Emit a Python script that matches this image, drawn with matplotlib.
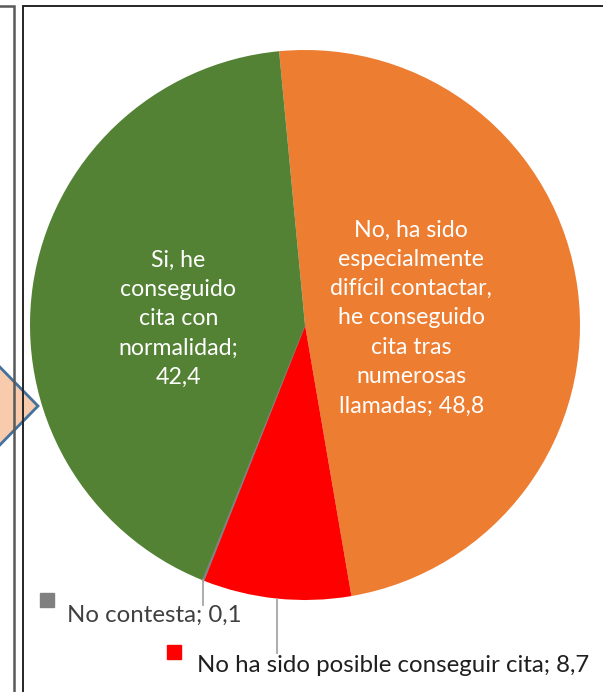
import numpy as np
import matplotlib.pyplot as plt
from matplotlib.patches import Polygon, Rectangle

plt.rcParams['font.family'] = ['Lato', 'DejaVu Sans']

# Datos del gráfico (orden de los sectores en sentido horario)
categorias = [
    'No, ha sido\nespecialmente\ndifícil contactar,\nhe conseguido\ncita tras\nnumerosas\nllamadas',
    'No ha sido posible conseguir cita',
    'No contesta',
    'Si, he\nconseguido\ncita con\nnormalidad',
]
valores = [48.8, 8.7, 0.1, 42.4]
colores = ['#ED7D31', '#FF0000', '#808080', '#548235']

W, H = 603, 692
fig = plt.figure(figsize=(W / 100, H / 100), dpi=100)
ax = fig.add_axes([0, 0, 1, 1])

# Centro y radio en píxeles (eje y invertido)
cx, cy, r = 305, 325, 275
wedges, _ = ax.pie(valores, colors=colores, center=(cx, cy), radius=r,
                   startangle=264.6, counterclock=True,
                   wedgeprops=dict(edgecolor='none'))
wedges[2].set_edgecolor('#808080')
wedges[2].set_linewidth(0.9)
ax.set_xlim(0, W)
ax.set_ylim(H, 0)
ax.set_aspect('equal')
ax.axis('off')

def fmt(v):
    return f'{v:.1f}'.replace('.', ',')

# Etiquetas interiores (naranja y verde)
interiores = {0: (0.39, ' ', 7), 3: (0.465, '\n', 12)}
for i, (dist, sep, dy) in interiores.items():
    w = wedges[i]
    mid = np.deg2rad((w.theta1 + w.theta2) / 2)
    x = cx + dist * r * np.cos(mid)
    y = cy + dist * r * np.sin(mid) + dy
    ax.text(x, y, f'{categorias[i]};{sep}{fmt(valores[i])}', color='white',
            fontsize=16.7, ha='center', va='center', ma='center',
            linespacing=1.49)

# Etiquetas exteriores con línea guía
ext = {2: (605, 40, 593, 67, 622, '#404040'),
       1: (653, 167, 645, 197, 672, '#1F1F1F')}
for i, (ybot, sx, sy, tx, ty, tc) in ext.items():
    w = wedges[i]
    mid = np.deg2rad((w.theta1 + w.theta2) / 2)
    px = cx + r * np.cos(mid)
    py = cy + r * np.sin(mid)
    ax.plot([px, px], [py, ybot], color='#A6A6A6', lw=1.3, zorder=3)
    ax.add_patch(Rectangle((sx, sy), 14, 14, color=colores[i], zorder=3))
    ax.text(tx, ty, f'{categorias[i]}; {fmt(valores[i])}', color=tc,
            fontsize=17.3, ha='left', va='baseline')

# Flecha del diagrama contiguo y marcos
ax.add_patch(Polygon([(-10, 357), (38, 406), (-10, 455)], closed=True,
                     facecolor='#F8CBAD', edgecolor='#41719C', lw=2, zorder=1))
ax.plot([0, 14, 14], [6, 6, H], color='#595959', lw=1.8, zorder=4,
        solid_joinstyle='miter')
ax.plot([23, 23, W + 5], [H, 6, 6], color='#262626', lw=1.4, zorder=4,
        solid_joinstyle='miter')

fig.savefig('out.png', dpi=100)
